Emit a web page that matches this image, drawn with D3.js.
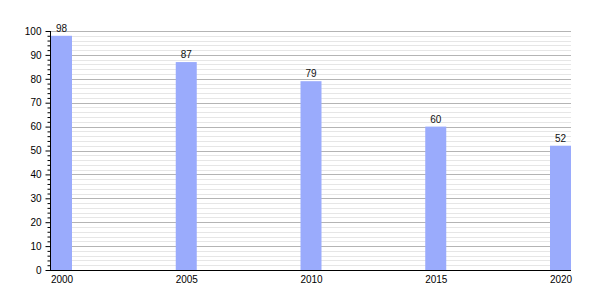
<!DOCTYPE html>
<html>
<head>
<meta charset="utf-8">
<script src="https://cdn.jsdelivr.net/npm/d3@7"></script>
<style>
  body { margin: 0; background: #fff; }
  text { font-family: "Liberation Sans", Arial, sans-serif; }
</style>
</head>
<body>
<div class="chart"></div>
<script>
// data
let years = [2000, 2005, 2010, 2015, 2020];
let values = [98, 87, 79, 60, 52];
let yMajorTicks = [0, 10, 20, 30, 40, 50, 60, 70, 80, 90, 100];

let outerWidth = 600,
  outerHeight = 300;
let plot = { left: 50, right: 571, top: 31, bottom: 270 };
let barWidth = 21;

let svg = d3
  .select(".chart")
  .append("svg")
  .attr("width", outerWidth)
  .attr("height", outerHeight);

let y = d3.scaleLinear().domain([0, 100]).range([plot.bottom, plot.top]);
let x = d3
  .scaleLinear()
  .domain([2000, 2020])
  .range([plot.left + 1 + barWidth / 2, plot.right - barWidth / 2]);

// minor grid every 2
let minor = d3.range(2, 101, 2).filter((v) => v % 10 !== 0);
svg
  .selectAll(".minor")
  .data(minor)
  .enter()
  .append("line")
  .attr("x1", plot.left)
  .attr("x2", plot.right)
  .attr("y1", (d) => Math.round(y(d)) + 0.5)
  .attr("y2", (d) => Math.round(y(d)) + 0.5)
  .attr("stroke", "#e6e6e6");

// major grid
svg
  .selectAll(".major")
  .data(yMajorTicks.filter((v) => v > 0))
  .enter()
  .append("line")
  .attr("x1", plot.left)
  .attr("x2", plot.right)
  .attr("y1", (d) => Math.round(y(d)) + 0.5)
  .attr("y2", (d) => Math.round(y(d)) + 0.5)
  .attr("stroke", "#b4b4b4");

// bars
svg
  .selectAll(".bar")
  .data(values)
  .enter()
  .append("rect")
  .attr("x", (d, i) => x(years[i]) - barWidth / 2)
  .attr("y", (d) => y(d))
  .attr("width", barWidth)
  .attr("height", (d) => plot.bottom - y(d))
  .attr("fill", "#9aabfc");

// value labels
svg
  .selectAll(".val")
  .data(values)
  .enter()
  .append("text")
  .attr("x", (d, i) => x(years[i]))
  .attr("y", (d) => y(d) - 4)
  .attr("text-anchor", "middle")
  .attr("font-size", 10)
  .attr("fill", "#111")
  .text((d) => d);

// y axis
let yAxis = d3
  .axisLeft(y)
  .tickValues(yMajorTicks)
  .tickSize(5)
  .tickPadding(4)
  .tickFormat(d3.format("d"));
let gy = svg
  .append("g")
  .attr("transform", "translate(" + (plot.left + 0.5) + ",0)")
  .call(yAxis);
gy.select(".domain").attr("d", "M0," + plot.top + "V" + plot.bottom);
gy.selectAll("text").attr("font-size", 10).attr("font-family", "Liberation Sans, Arial, sans-serif");

// minor ticks on y axis
let yMinor = d3.axisLeft(y).tickValues(minor).tickSize(3).tickFormat("");
let gym = svg
  .append("g")
  .attr("transform", "translate(" + (plot.left + 0.5) + ",0)")
  .call(yMinor);
gym.select(".domain").remove();

// x axis
let xAxis = d3
  .axisBottom(x)
  .tickValues(years)
  .tickSize(0)
  .tickPadding(5)
  .tickFormat(d3.format("d"));
let gx = svg
  .append("g")
  .attr("transform", "translate(0," + (plot.bottom + 0.5) + ")")
  .call(xAxis);
gx.select(".domain").attr("d", "M" + plot.left + ",0H" + plot.right);
gx.selectAll("text").attr("font-size", 10).attr("font-family", "Liberation Sans, Arial, sans-serif");
</script>
</body>
</html>
